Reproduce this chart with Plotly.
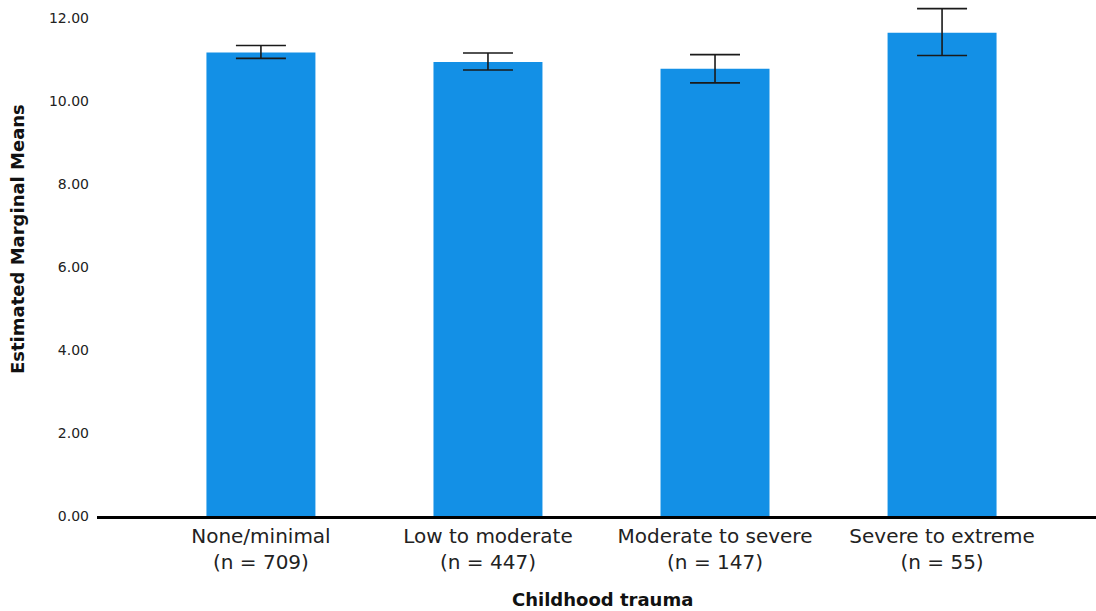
import plotly.graph_objects as go

categories = ["None/minimal<br>(n = 709)", "Low to moderate<br>(n = 447)",
              "Moderate to severe<br>(n = 147)", "Severe to extreme<br>(n = 55)"]
means = [11.18, 10.95, 10.79, 11.66]
upper = [11.35, 11.17, 11.13, 12.24]
lower = [11.04, 10.76, 10.45, 11.11]
y_ticks = [0, 2, 4, 6, 8, 10, 12]

err_plus = [u - m for u, m in zip(upper, means)]
err_minus = [m - l for m, l in zip(means, lower)]

fig = go.Figure()
fig.add_trace(go.Bar(
    x=list(range(len(categories))), y=means,
    width=0.48,
    marker=dict(color="#1390E6", line=dict(width=0)),
    error_y=dict(type="data", symmetric=False, array=err_plus, arrayminus=err_minus,
                 color="#1a1a1a", thickness=1.6, width=25),
))

W, H = 1096, 611
ml, mr, mt, mb = 97, 0, 2, 95
fig.update_layout(
    width=W, height=H,
    margin=dict(l=ml, r=mr, t=mt, b=mb),
    plot_bgcolor="white", paper_bgcolor="white",
    showlegend=False,
    font=dict(family="DejaVu Sans", color="#222222"),
    xaxis=dict(
        range=[-0.722, 3.678],
        tickmode="array", tickvals=list(range(len(categories))), ticktext=categories,
        tickfont=dict(size=20, color="#222222"),
        showline=True, linecolor="black", linewidth=2.5,
        showgrid=False, zeroline=False, ticks="",
    ),
    yaxis=dict(
        range=[0, 12.4],
        tickmode="array", tickvals=y_ticks, ticktext=[f"{v:.2f}" for v in y_ticks],
        tickfont=dict(size=14, color="#222222"),
        showline=False, showgrid=False, zeroline=False, ticks="",
        ticklabelstandoff=7,
    ),
)

ph = H - mt - mb
fig.add_annotation(
    text="<b>Estimated Marginal Means</b>", textangle=-90,
    xref="paper", yref="paper",
    x=(17 - ml) / (W - ml - mr), y=(H - mb - 239) / ph,
    showarrow=False, font=dict(size=18, color="#111111"),
    xanchor="center", yanchor="middle",
)
fig.add_annotation(
    text="<b>Childhood trauma</b>",
    xref="paper", yref="paper",
    x=(602.5 - ml) / (W - ml - mr), y=(H - mb - 599) / ph,
    showarrow=False, font=dict(size=18, color="#111111"),
    xanchor="center", yanchor="middle",
)

fig.write_html("out.html", config={"displayModeBar": False},
               post_script="document.body.style.margin='0';document.body.style.overflow='hidden';")
